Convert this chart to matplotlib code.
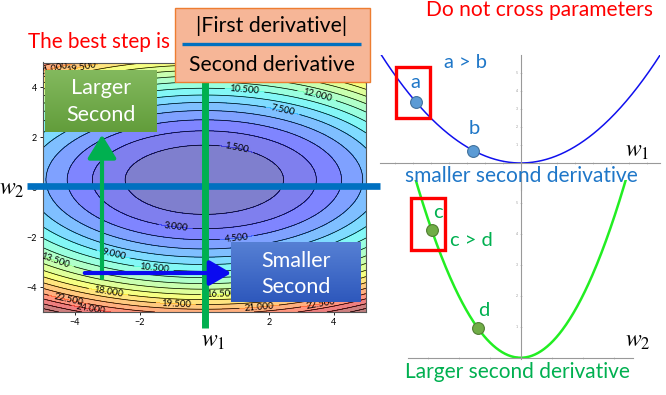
import numpy as np
import matplotlib
matplotlib.use("Agg")
import matplotlib.pyplot as plt
from matplotlib.patches import Rectangle, FancyArrowPatch

plt.rcParams['font.family'] = ['Lato', 'DejaVu Sans']
plt.rcParams['mathtext.fontset'] = 'stix'

# ---------------- data ----------------
# loss surface  L(w1, w2) = c1 * w1^2 + c2 * (w2 - w2_center)^2
coef_w1 = 0.25
coef_w2 = 0.78
w2_center = 0.3
contour_levels = np.arange(0, 31, 1.5)
label_positions = [(1.25, 3.96), (2.44, 3.16), (3.5, 3.8), (1.0, 1.6), (-0.88, -1.52),
                   (1.0, -1.96), (-2.8, -2.64), (-4.6, -2.85), (-1.56, -3.24),
                   (-2.97, -4.2), (-0.88, -4.64), (-4.2, -4.44), (-3.5, -4.85),
                   (1.7, -4.85), (3.6, -4.7), (0.5, -4.2), (-3.8, 4.8), (-4.7, 4.85)]
contour_ticks = [-4, -2, 0, 2, 4]

# 1-D slices (parabolas)
upper_curvature = 0.1      # along w1: smaller second derivative
lower_curvature = 0.5      # along w2: larger second derivative
points_ab_x = [-5.83, -2.63]
points_cd_x = [-2.87, -1.38]
upper_xticks = list(range(-7, 8))
upper_yticks = [1, 2, 3, 4, 5]
lower_xticks = [-3, -2, -1, 0, 1, 2, 3]
lower_yticks = [0, 1, 2, 3, 4, 5]

W, H = 666, 395
fig = plt.figure(figsize=(W / 100, H / 100), dpi=100)


def rect(x0, y0, x1, y1):
    return [x0 / W, 1 - y1 / H, (x1 - x0) / W, (y1 - y0) / H]


# ---------------- contour plot ----------------
ax = fig.add_axes(rect(42.7, 62.5, 366, 312))
g1 = np.linspace(-5, 5, 300)
g2 = np.linspace(-5, 5, 300)
G1, G2 = np.meshgrid(g1, g2)
L = coef_w1 * G1 ** 2 + coef_w2 * (G2 - w2_center) ** 2
ax.contourf(G1, G2, L, levels=contour_levels, cmap='jet', vmin=0, vmax=27, alpha=0.5)
cs = ax.contour(G1, G2, L, levels=contour_levels, colors='black', linewidths=0.5)
ax.clabel(cs, fmt='%.3f', fontsize=6.8, inline=True, manual=label_positions)
ax.set_xlim(-5, 5)
ax.set_ylim(-5, 5)
ax.set_xticks(contour_ticks)
ax.set_yticks(contour_ticks)
ax.tick_params(labelsize=6.5, length=2, width=0.6, pad=2)
for s in ax.spines.values():
    s.set_color('#555555')
    s.set_linewidth(0.8)

# ---------------- upper parabola ----------------
axu = fig.add_axes(rect(380, 55, 660, 190))
xu = np.linspace(-7.82, 7.74, 300)
axu.plot(xu, upper_curvature * xu ** 2, color='#1010ee', lw=1.1)
axu.plot(points_ab_x, [upper_curvature * x ** 2 for x in points_ab_x], 'o',
         ms=8.5, mfc='#5B9BD5', mec='#41719C', mew=0.8)
axu.set_xlim(-7.82, 7.74)
axu.set_ylim(-1.5, 6.0)
axu.set_xticks(upper_xticks)
axu.set_yticks(upper_yticks)

# ---------------- lower parabola ----------------
axl = fig.add_axes(rect(408, 179.5, 633, 359))
xl = np.linspace(-3.635, 3.62, 300)
axl.plot(xl, lower_curvature * xl ** 2, color='#22ee22', lw=1.8)
axl.plot(points_cd_x, [lower_curvature * x ** 2 for x in points_cd_x], 'o',
         ms=8.5, mfc='#70AD47', mec='#507E32', mew=0.8)
axl.set_xlim(-3.635, 3.62)
axl.set_ylim(-0.04, 5.75)
axl.set_xticks(lower_xticks)
axl.set_yticks(lower_yticks)

for a in (axu, axl):
    a.patch.set_alpha(0)
    for side in ('top', 'right'):
        a.spines[side].set_visible(False)
    a.spines['left'].set_position(('data', 0))
    a.spines['bottom'].set_position(('data', 0))
    a.spines['left'].set_color('#999999')
    a.spines['bottom'].set_color('#999999')
    a.spines['left'].set_linewidth(0.8)
    a.spines['bottom'].set_linewidth(0.8)
    a.tick_params(direction='inout', length=2, width=0.4, colors='#aaaaaa',
                  labelsize=2.5, labelcolor='#999999', pad=1)
    a.tick_params(axis='x', labelbottom=False)

# ---------------- overlay (annotations) ----------------
ov = fig.add_axes([0, 0, 1, 1])
ov.set_xlim(0, W)
ov.set_ylim(H, 0)
ov.axis('off')
ov.patch.set_alpha(0)


def gradient_box(x0, y0, x1, y1, top, bottom):
    t = np.array(matplotlib.colors.to_rgb(top))
    b = np.array(matplotlib.colors.to_rgb(bottom))
    f = np.linspace(0, 1, 64)[:, None, None]
    img = t * (1 - f) + b * f
    ov.imshow(img, extent=[x0, x1, y1, y0], aspect='auto', interpolation='bilinear', zorder=3)


# w2 horizontal (blue) and w1 vertical (green) lines
ov.plot([27, 380], [186, 186], color='#0070C0', lw=4.8, solid_capstyle='butt', zorder=2)
ov.plot([205, 205], [80, 328], color='#00B050', lw=5.0, solid_capstyle='butt', zorder=2.5)

# arrows
ov.add_patch(FancyArrowPatch((102, 281), (102, 132), arrowstyle='-|>,head_length=6.5,head_width=4',
                             color='#00B050', lw=3, mutation_scale=2.2, zorder=2.6))
ov.add_patch(FancyArrowPatch((82, 273), (234, 273), arrowstyle='-|>,head_length=6,head_width=3.5',
                             color='#0A0AF0', lw=3, mutation_scale=2.2, zorder=2.7))

# boxes
box_fs = 15.5
gradient_box(45, 70, 157, 132, '#83B95E', '#629D3B')
ov.text(101, 88, 'Larger', color='white', fontsize=box_fs, ha='center', va='center', zorder=4)
ov.text(101, 115, 'Second', color='white', fontsize=box_fs, ha='center', va='center', zorder=4)
gradient_box(231, 242, 361, 302, '#5680D4', '#2E58BC')
ov.text(296, 261, 'Smaller', color='white', fontsize=box_fs, ha='center', va='center', zorder=4)
ov.text(296, 287, 'Second', color='white', fontsize=box_fs, ha='center', va='center', zorder=4)

ov.add_patch(Rectangle((175, 8), 195, 74, facecolor='#F6B697', edgecolor='#ED7D31', lw=1.0, zorder=3))
ov.text(272, 26, '|First derivative|', color='black', fontsize=15.3, ha='center', va='center', zorder=4)
ov.plot([182, 361], [44, 44], color='#0070C0', lw=2.4, solid_capstyle='butt', zorder=4)
ov.text(272, 65, 'Second derivative', color='black', fontsize=15.2, ha='center', va='center', zorder=4)

ov.text(99, 42, 'The best step is', color='#FF0000', fontsize=14.9, ha='center', va='center')
ov.text(540, 10, 'Do not cross parameters', color='#FF0000', fontsize=15.1, ha='center', va='center')

ov.text(12, 190, r'$w_2$', fontsize=17, ha='center', va='center')
ov.text(213, 342, r'$w_1$', fontsize=17, ha='center', va='center')
ov.text(637, 151, r'$w_1$', fontsize=17, ha='center', va='center')
ov.text(638, 341, r'$w_2$', fontsize=17, ha='center', va='center')

blue_txt = '#1F77C8'
green_txt = '#00B050'
ov.text(466, 63, 'a > b', color=blue_txt, fontsize=14.5, ha='center', va='center')
ov.text(415, 82, 'a', color=blue_txt, fontsize=14.5, ha='center', va='center')
ov.text(474, 128, 'b', color=blue_txt, fontsize=14.5, ha='center', va='center')
ov.text(521, 176, 'smaller second derivative', color=blue_txt, fontsize=15.1, ha='center', va='center')
ov.add_patch(Rectangle((396, 67), 34, 51, facecolor='none', edgecolor='#FF0000', lw=2.4))

ov.text(438, 213, 'c', color=green_txt, fontsize=14.5, ha='center', va='center')
ov.text(471, 240, 'c > d', color=green_txt, fontsize=14.5, ha='center', va='center')
ov.text(484, 310, 'd', color=green_txt, fontsize=14.5, ha='center', va='center')
ov.text(517, 372, 'Larger second derivative', color=green_txt, fontsize=15.0, ha='center', va='center')
ov.add_patch(Rectangle((411, 197.5), 34, 52, facecolor='none', edgecolor='#FF0000', lw=2.4))

fig.savefig('out.png', dpi=100)
